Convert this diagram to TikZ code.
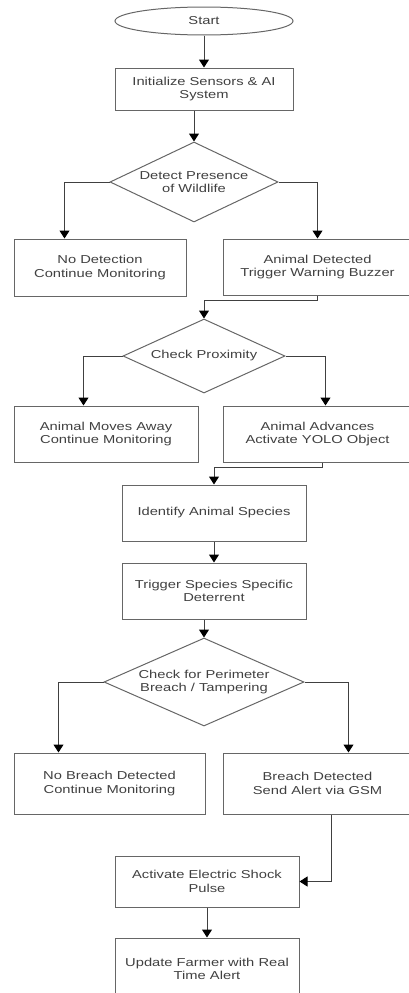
\documentclass[tikz,border=0pt]{standalone}
\usepackage{fontspec}
\setmainfont{Liberation Sans}[FakeStretch=1.28]
\usetikzlibrary{shapes.geometric,arrows.meta}

\tikzset{
  base/.style={draw=black!60, line width=1pt, inner sep=0pt, align=center,
    text=black!75, font=\fontsize{11.5}{13.5}\selectfont},
  procbox/.style={base, rectangle},
  decision/.style={base, diamond},
  terminal/.style={base, ellipse},
  flowline/.style={draw=black!75, line width=1pt,
    -{Triangle[width=10pt,length=8pt,color=black]}}
}

\begin{document}
\begin{tikzpicture}[x=1pt, y=-1pt]
    \useasboundingbox (0,0) rectangle (409,993);
    \node[terminal, minimum width=178pt, minimum height=28pt] (start) at (204,21) {Start};
    \node[procbox, minimum width=178pt, minimum height=42pt] (init) at (204,89) {Initialize Sensors \& AI\\System};
    \node[decision, shape aspect=2.1, minimum width=168pt, minimum height=80pt] (detect) at (194,182) {Detect Presence\\of Wildlife};
    \node[procbox, minimum width=172pt, minimum height=57pt] (nodetect) at (100,267.5) {No Detection\\Continue Monitoring};
    \node[procbox, minimum width=189pt, minimum height=56pt] (detected) at (317.5,267) {Animal Detected\\Trigger Warning Buzzer};
    \node[decision, shape aspect=2.2, minimum width=162pt, minimum height=74pt] (proximity) at (204,356) {Check Proximity};
    \node[procbox, minimum width=184pt, minimum height=56pt] (away) at (106,434) {Animal Moves Away\\Continue Monitoring};
    \node[procbox, minimum width=189pt, minimum height=56pt] (advance) at (317.5,434) {Animal Advances\\Activate YOLO Object};
    \node[procbox, minimum width=184pt, minimum height=56pt] (identify) at (214,513) {Identify Animal Species};
    \node[procbox, minimum width=184pt, minimum height=56pt] (deterrent) at (214,591) {Trigger Species Specific\\Deterrent};
    \node[decision, shape aspect=2.27, minimum width=200pt, minimum height=88pt] (perimeter) at (204,682) {Check for Perimeter\\Breach / Tampering};
    \node[procbox, minimum width=191pt, minimum height=61pt] (nobreach) at (109.5,783.5) {No Breach Detected\\Continue Monitoring};
    \node[procbox, minimum width=189pt, minimum height=61pt] (breach) at (317.5,783.5) {Breach Detected\\Send Alert via GSM};
    \node[procbox, minimum width=184pt, minimum height=51pt] (shock) at (207,881.5) {Activate Electric Shock\\Pulse};
    \node[procbox, minimum width=184pt, minimum height=62pt] (update) at (207,969) {Update Farmer with Real\\Time Alert};

    \draw[flowline] (start) -- (init);
    \draw[flowline] (init.south -| detect.north) -- (detect.north);
    \draw[flowline] (detect.west) -| ([xshift=51pt]nodetect.north west);
    \draw[flowline] (detect.east) -| (detected.north);
    \draw[flowline] (detected.south) -- ++(0,5) -| (proximity.north);
    \draw[flowline] (proximity.west) -| ([xshift=70pt]away.north west);
    \draw[flowline] (proximity.east) -| ([xshift=8pt]advance.north);
    \draw[flowline] ([xshift=5pt]advance.south) -- ++(0,5) -| (identify.north);
    \draw[flowline] (identify) -- (deterrent);
    \draw[flowline] (deterrent.south -| perimeter.north) -- (perimeter.north);
    \draw[flowline] (perimeter.west) -| ([xshift=45pt]nobreach.north west);
    \draw[flowline] (perimeter.east) -| ([xshift=31pt]breach.north);
    \draw[flowline] ([xshift=14pt]breach.south) |- (shock.east);
%    \draw[flowline] (nobreach.south) |- (shock.west);
    \draw[flowline] (shock) -- (update);
\end{tikzpicture}
\end{document}
